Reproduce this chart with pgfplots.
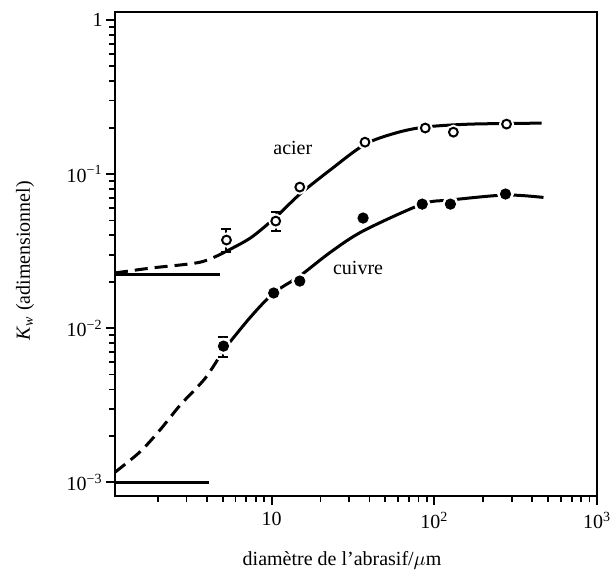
\documentclass[border=0pt]{standalone}
\usepackage{fontspec}
\setmainfont{Liberation Serif}
\usepackage{pgfplots}
\pgfplotsset{compat=1.18}
\begin{document}
\begin{tikzpicture}
\begin{axis}[
  scale only axis, width=241pt, height=242pt,
  xmode=log, ymode=log,
  xmin=1.09, xmax=1000, ymin=8.13e-4, ymax=1.127,
  axis line style={line width=1.1pt},
  tick align=outside, xtick pos=bottom, ytick pos=left,
  major tick length=4.5pt, minor tick length=3pt,
  every tick/.style={black, line width=0.9pt},
  xtick={10,100,1000},
  xticklabels={10,10\textsuperscript{2},10\textsuperscript{3}},
  ytick={0.001,0.01,0.1,1},
  yticklabels={10\textsuperscript{−3},10\textsuperscript{−2},10\textsuperscript{−1},1},
  minor xtick={2,3,4,5,6,7,8,9,20,30,40,50,60,70,80,90,200,300,400,500,600,700,800,900},
  minor ytick={0.002,0.003,0.004,0.005,0.006,0.007,0.008,0.009,
               0.02,0.03,0.04,0.05,0.06,0.07,0.08,0.09,
               0.2,0.3,0.4,0.5,0.6,0.7,0.8,0.9},
  yticklabel style={inner sep=1.5pt},
  xlabel={diamètre de l'abrasif/$\mu$m},
  ylabel={\textit{K}\textsubscript{\textit{w}} (adimensionnel)},
  xlabel style={at={([yshift=-32pt]axis description cs:0.471,0)}, anchor=center},
  ylabel style={at={([xshift=-45pt]axis description cs:0,0.486)}, anchor=center},
  clip=false,
]
\path (rel axis cs:0,0) coordinate (bl) (rel axis cs:1,1) coordinate (tr);

% acier: dashed start and solid fit
\addplot[black, line width=1.5pt, dash pattern=on 6.5pt off 3.5pt, smooth] coordinates {
  (1.09,0.0228) (1.79,0.0245) (3.65,0.0268) (5.28,0.0316)};
\addplot[black, line width=1.5pt, smooth] coordinates {
  (5.28,0.0316) (7.42,0.0385) (10.6,0.0525) (14.9,0.074) (23.1,0.107)
  (37.5,0.156) (58.2,0.185) (88,0.202) (169,0.211) (457,0.214)};
% cuivre: dashed start and solid fit
\addplot[black, line width=1.5pt, dash pattern=on 6.5pt off 3.5pt, smooth] coordinates {
  (1.09,0.00116) (1.55,0.00157) (2.06,0.00218) (2.74,0.00316) (3.91,0.00473) (5.06,0.0072)};
\addplot[black, line width=1.5pt, smooth] coordinates {
  (5.06,0.0072) (7.42,0.0118) (10.3,0.0169) (14.9,0.0218) (23.1,0.0312)
  (36.5,0.0427) (84.3,0.0638) (125.6,0.0678) (274,0.0731) (469,0.0705)};
% limits at small diameter
\addplot[black, line width=1.5pt] coordinates {(1.09,0.0224) (4.8,0.0224)};
\addplot[black, line width=1.5pt] coordinates {(1.09,0.001) (4.1,0.001)};

% white halos to break the lines at the points
\addplot[only marks, mark=*, mark size=2.2pt, mark options={draw=white, fill=white, line width=3pt}] coordinates {
  (5.28,0.0373) (10.6,0.0495) (14.9,0.0823) (37.5,0.161) (88,0.199) (131,0.187) (278,0.211)};
\addplot[only marks, mark=*, mark size=2.6pt, mark options={draw=white, fill=white, line width=3pt}] coordinates {
  (5.06,0.00764) (10.3,0.0169) (14.9,0.0202) (36.5,0.0518) (84.3,0.0638) (125.6,0.0638) (274,0.0742)};

% acier points
\addplot[only marks, mark=o, mark size=2.2pt, mark options={line width=1pt, fill=white},
  error bars/.cd, y dir=both, y explicit, error mark=-,
  error bar style={line width=1pt}, error mark options={rotate=90, line width=1pt, mark size=2.5pt}]
  coordinates {
  (5.28,0.0373) += (0,0.0067) -= (0,0.0061)
  (10.6,0.0495) += (0,0.0072) -= (0,0.0068)
  (14.9,0.0823) (37.5,0.161) (88,0.199) (131,0.187) (278,0.211)};
% cuivre points
\addplot[only marks, mark=*, mark size=2.6pt, mark options={fill=black},
  error bars/.cd, y dir=both, y explicit, error mark=-,
  error bar style={line width=1pt}, error mark options={rotate=90, line width=1pt, mark size=2.5pt}]
  coordinates {
  (5.06,0.00764) += (0,0.0011) -= (0,0.00116)
  (10.3,0.0169) (14.9,0.0202) (36.5,0.0518) (84.3,0.0638) (125.6,0.0638) (274,0.0742)};

\node at (axis cs:13.5,0.148) {acier};
\node at (axis cs:34,0.0245) {cuivre};
\end{axis}
\pgfresetboundingbox
\path ([shift={(-57.5pt,-39pt)}]bl) rectangle ([shift={(7pt,6pt)}]tr);
\end{tikzpicture}
\end{document}
